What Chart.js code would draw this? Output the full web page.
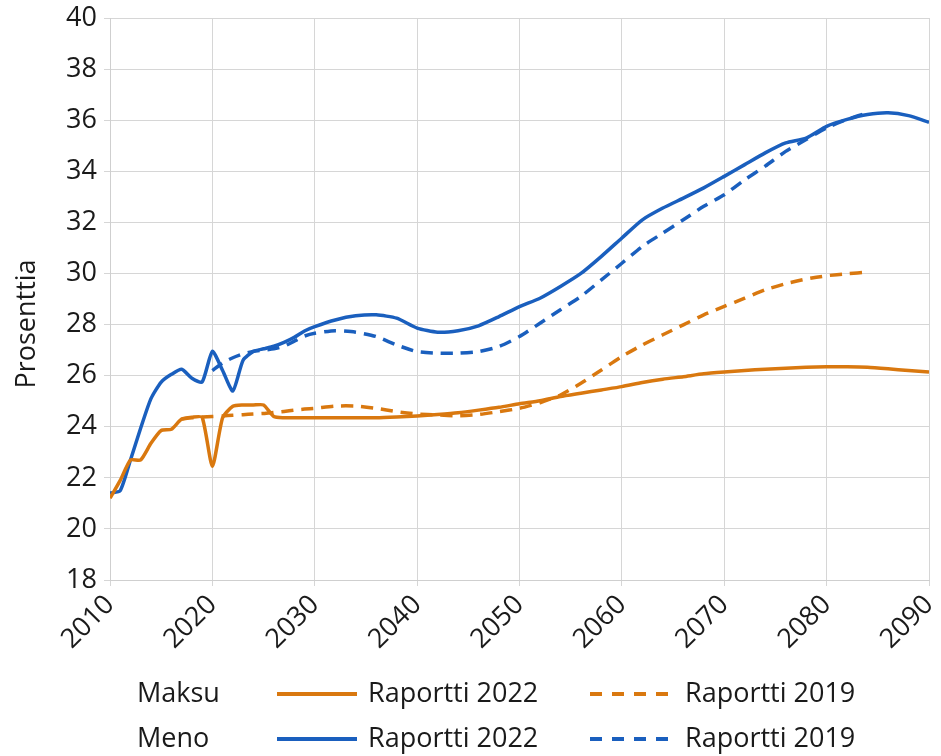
<!DOCTYPE html>
<html>
<head>
<meta charset="utf-8">
<script src="https://cdn.jsdelivr.net/npm/chart.js@4/dist/chart.umd.min.js"></script>
<style>
  html, body { margin: 0; padding: 0; background: #fff; }
  #wrap { width: 941px; height: 756px; }
</style>
</head>
<body>
<div id="wrap"><canvas id="kaavio" width="941" height="756"></canvas></div>
<script>
// Vuodet ja arvot (prosenttia)
const vuodet2022 = [2010, 2011, 2012, 2013, 2014, 2015, 2016, 2017, 2018, 2019, 2020,
  2021, 2022, 2023, 2024, 2025, 2026, 2027, 2028, 2029, 2030,
  2032, 2034, 2036, 2038, 2040, 2042, 2044, 2046, 2048, 2050,
  2052, 2054, 2056, 2058, 2060, 2062, 2064, 2066, 2068, 2070,
  2072, 2074, 2076, 2078, 2080, 2082, 2084, 2086, 2088, 2090];

const maksu2022 = [21.2, 21.9, 22.7, 22.7, 23.35, 23.85, 23.9, 24.3, 24.37, 24.37, 22.45,
  24.35, 24.8, 24.85, 24.85, 24.85, 24.4, 24.35, 24.35, 24.35, 24.35,
  24.35, 24.35, 24.35, 24.38, 24.42, 24.48, 24.55, 24.65, 24.76, 24.9,
  25.02, 25.18, 25.31, 25.44, 25.57, 25.73, 25.86, 25.96, 26.07, 26.14,
  26.2, 26.25, 26.29, 26.33, 26.35, 26.35, 26.33, 26.27, 26.2, 26.14];

const meno2022 = [21.4, 21.5, 22.7, 23.95, 25.1, 25.75, 26.05, 26.25, 25.9, 25.75, 26.95,
  26.2, 25.4, 26.6, 26.95, 27.05, 27.15, 27.3, 27.5, 27.75, 27.92,
  28.18, 28.34, 28.38, 28.25, 27.86, 27.7, 27.76, 27.95, 28.31, 28.7,
  29.03, 29.49, 30.0, 30.67, 31.39, 32.1, 32.56, 32.95, 33.35, 33.8,
  34.26, 34.72, 35.11, 35.3, 35.76, 36.03, 36.22, 36.29, 36.18, 35.92];

const vuodetMaksu2019 = [2017, 2018, 2019, 2020, 2021, 2022, 2023, 2024, 2025, 2026,
  2027, 2028, 2029, 2030, 2032, 2034, 2036, 2038, 2040, 2042, 2044, 2046, 2048, 2050,
  2052, 2054, 2056, 2058, 2060, 2062, 2064, 2066, 2068, 2070,
  2072, 2074, 2076, 2078, 2080, 2082, 2084];

const maksu2019 = [24.3, 24.35, 24.38, 24.4, 24.42, 24.45, 24.47, 24.5, 24.52, 24.56,
  24.6, 24.65, 24.69, 24.72, 24.81, 24.81, 24.72, 24.59, 24.5, 24.46, 24.43, 24.48, 24.59, 24.72,
  24.94, 25.24, 25.7, 26.22, 26.75, 27.2, 27.6, 27.99, 28.38, 28.71,
  29.03, 29.36, 29.6, 29.78, 29.91, 29.99, 30.05];

const vuodetMeno2019 = [2020, 2021, 2022, 2023, 2024, 2025, 2026, 2027, 2028, 2029, 2030,
  2032, 2034, 2036, 2038, 2040, 2042, 2044, 2046, 2048, 2050,
  2052, 2054, 2056, 2058, 2060, 2062, 2064, 2066, 2068, 2070,
  2072, 2074, 2076, 2078, 2080, 2082, 2084];

const meno2019 = [26.2, 26.5, 26.7, 26.85, 26.95, 27.0, 27.05, 27.15, 27.35, 27.55, 27.66,
  27.76, 27.7, 27.53, 27.2, 26.94, 26.88, 26.88, 26.94, 27.14, 27.53,
  28.05, 28.58, 29.1, 29.75, 30.4, 31.06, 31.58, 32.1, 32.63, 33.08,
  33.67, 34.2, 34.78, 35.24, 35.7, 36.03, 36.29];

const xTiketit = [2010, 2020, 2030, 2040, 2050, 2060, 2070, 2080, 2090];

const ORANSSI = '#D9780F';
const SININEN = '#1A5FBE';
const fontti = '"Open Sans", "Noto Sans", sans-serif';

function pisteet(x, y) {
  return x.map((v, i) => ({ x: v, y: y[i] }));
}

// Selite kahdella rivillä: Maksu / Meno
const selitePlugin = {
  id: 'selite',
  afterDraw(chart) {
    const c = chart.ctx;
    const ds = chart.data.datasets;
    const rivit = [
      { nimi: 'Maksu', y: 694, a: ds[0], b: ds[1] },
      { nimi: 'Meno', y: 739, a: ds[2], b: ds[3] }
    ];
    c.save();
    c.font = '27px ' + fontti;
    c.fillStyle = '#1a1a1a';
    c.textBaseline = 'middle';
    rivit.forEach(r => {
      c.fillText(r.nimi, 137, r.y);
      [[r.a, 277, 357, 368], [r.b, 590, 668, 685]].forEach(([d, x1, x2, tx]) => {
        c.beginPath();
        c.strokeStyle = d.borderColor;
        c.lineWidth = 4;
        c.setLineDash(d.borderDash && d.borderDash.length ? [12, 10] : []);
        c.moveTo(x1, r.y);
        c.lineTo(x2, r.y);
        c.stroke();
        c.setLineDash([]);
        c.fillText(d.label, tx, r.y);
      });
    });
    // y-akselin otsikko
    c.translate(27, chart.chartArea.top + (chart.chartArea.bottom - chart.chartArea.top) / 2 + 25);
    c.rotate(-Math.PI / 2);
    c.textAlign = 'center';
    c.fillText('Prosenttia', 0, 0);
    c.restore();
  }
};

const config = {
  type: 'line',
  data: {
    datasets: [
      { label: 'Raportti 2022', data: pisteet(vuodet2022, maksu2022), borderColor: ORANSSI, borderWidth: 3.5, tension: 0.2 },
      { label: 'Raportti 2019', data: pisteet(vuodetMaksu2019, maksu2019), borderColor: ORANSSI, borderWidth: 3.5, borderDash: [12, 8], tension: 0.2 },
      { label: 'Raportti 2022', data: pisteet(vuodet2022, meno2022), borderColor: SININEN, borderWidth: 3.5, tension: 0.2 },
      { label: 'Raportti 2019', data: pisteet(vuodetMeno2019, meno2019), borderColor: SININEN, borderWidth: 3.5, borderDash: [12, 8], tension: 0.2 }
    ]
  },
  options: {
    responsive: false,
    animation: false,
    layout: { padding: { left: 0, top: 18, right: 12, bottom: 86 } },
    elements: { point: { radius: 0 } },
    plugins: {
      legend: { display: false },
      tooltip: { enabled: false }
    },
    scales: {
      x: {
        type: 'linear',
        min: 2010,
        max: 2090,
        afterBuildTicks: s => { s.ticks = xTiketit.map(v => ({ value: v })); },
        afterFit: s => { s.height = 90; s.paddingLeft = 0; s.paddingRight = 0; },
        grid: { color: '#d6d6d6', lineWidth: 1, tickLength: 6 },
        border: { color: '#cfcfcf' },
        ticks: {
          minRotation: 45,
          maxRotation: 45,
          padding: 3,
          color: '#1a1a1a',
          font: { family: fontti, size: 27 },
          callback: v => String(v)
        }
      },
      y: {
        min: 18,
        max: 40,
        afterFit: s => { s.width = 110; s.paddingTop = 0; s.paddingBottom = 0; },
        grid: { color: '#d6d6d6', lineWidth: 1, tickLength: 6 },
        border: { color: '#cfcfcf' },
        ticks: {
          stepSize: 2,
          padding: 7,
          color: '#1a1a1a',
          font: { family: fontti, size: 27 }
        }
      }
    }
  },
  plugins: [selitePlugin]
};

const ctx = document.getElementById('kaavio').getContext('2d');
const kaavio = new Chart(ctx, config);
</script>
</body>
</html>
